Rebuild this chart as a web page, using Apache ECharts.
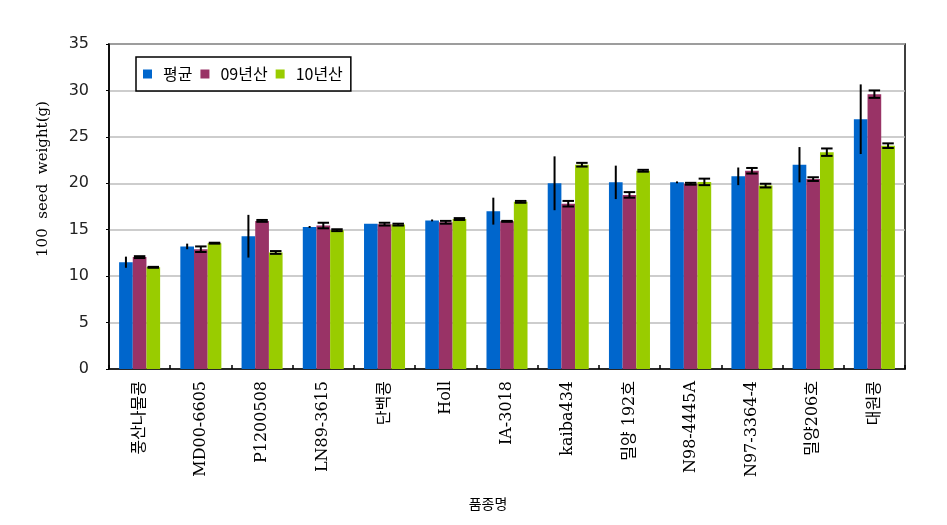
<!DOCTYPE html>
<html><head><meta charset="utf-8">
<script src="https://cdn.jsdelivr.net/npm/echarts@6/dist/echarts.min.js"></script>
<style>html,body{margin:0;padding:0;background:#fff}#c{width:947px;height:525px}</style>
</head><body><div id="c"></div>
<script>
const categories = ['풍산나물콩','MD00-6605','P1200508','LN89-3615','단백콩','Holl','IA-3018','kaiba434','밀양 192호','N98-4445A','N97-3364-4','밀양206호','대원콩'];
const seriesNames = ['평균','09년산','10년산'];
const avgVals = [11.5, 13.2, 14.3, 15.3, 15.65, 16.0, 17.0, 20.0, 20.1, 20.1, 20.75, 22.0, 26.9];
const y09Vals = [12.05, 12.9, 15.95, 15.45, 15.6, 15.8, 15.9, 17.8, 18.75, 19.95, 21.35, 20.45, 29.6];
const y10Vals = [10.95, 13.55, 12.55, 14.95, 15.55, 16.15, 18.0, 22.0, 21.35, 20.15, 19.75, 23.35, 24.05];
const avgErr = [0.6, 0.3, 2.3, 0.1, 0.0, 0.1, 1.45, 2.9, 1.8, 0.1, 0.95, 1.9, 3.75];
const y09Err = [0.1, 0.3, 0.1, 0.3, 0.15, 0.15, 0.05, 0.3, 0.3, 0.1, 0.3, 0.2, 0.4];
const y10Err = [0.05, 0.05, 0.15, 0.1, 0.1, 0.1, 0.1, 0.2, 0.1, 0.35, 0.2, 0.4, 0.25];
const yTicks = [0,5,10,15,20,25,30,35];

const colors = ['#0066cc','#993366','#99cc00'];
const vals = [avgVals, y09Vals, y10Vals];
const errs = [avgErr, y09Err, y10Err];
const GAP = 0.33;
const fontKR = '"Noto Sans CJK KR", sans-serif';
const fontLab = '"DejaVu Serif", "Noto Sans CJK KR", serif';

function errSeries(s) {
  return {
    type: 'custom',
    name: seriesNames[s] + '_err',
    z: 10,
    data: vals[s].map((v, i) => [i, v, errs[s][i]]),
    renderItem: function (params, api) {
      const i = api.value(0), v = api.value(1), e = api.value(2);
      const band = api.size([1, 0])[0];
      const gw = band * (1 - GAP);
      const bw = gw / 3;
      const c = api.coord([i, v]);
      const x = c[0] - gw / 2 + bw * (s + 0.5);
      const yH = api.coord([i, v + e])[1];
      const yL = api.coord([i, v - e])[1];
      const st = { stroke: '#000', lineWidth: 2 };
      const ch = [{ type: 'line', shape: { x1: x, y1: yH, x2: x, y2: yL }, style: st }];
      if (s > 0) {
        const hw = bw * 0.42;
        ch.push({ type: 'line', shape: { x1: x - hw, y1: yH, x2: x + hw, y2: yH }, style: st });
        ch.push({ type: 'line', shape: { x1: x - hw, y1: yL, x2: x + hw, y2: yL }, style: st });
      }
      return { type: 'group', children: ch };
    }
  };
}

const chart = echarts.init(document.getElementById('c'), null, { renderer: 'canvas' });
chart.setOption({
  animation: false,
  grid: { left: 109, right: 42, top: 44, bottom: 156, show: true, borderColor: '#000', borderWidth: 1.5, backgroundColor: 'transparent' },
  legend: {
    data: seriesNames,
    left: 136, top: 57,
    orient: 'horizontal',
    itemWidth: 9, itemHeight: 9, itemGap: 8,
    icon: 'rect',
    borderColor: '#000', borderWidth: 1.5,
    padding: [9, 8, 9, 7],
    backgroundColor: '#fff',
    textStyle: { fontFamily: fontKR, fontSize: 16, color: '#000', padding: [0, 0, 0, 6] }
  },
  xAxis: {
    type: 'category',
    data: categories,
    axisLine: { lineStyle: { color: '#000', width: 1.5 } },
    axisTick: { show: true, inside: true, length: 4, lineStyle: { color: '#000', width: 1.5 } },
    axisLabel: { rotate: 90, interval: 0, margin: 12, fontFamily: fontLab, fontSize: 16, color: '#000' },
    name: '품종명',
    nameLocation: 'middle',
    nameGap: 128,
    nameTextStyle: { fontFamily: fontKR, fontSize: 14, color: '#000', padding: [0, 38, 0, 0] }
  },
  yAxis: {
    type: 'value',
    min: 0, max: 35, interval: 5,
    axisLine: { show: true, lineStyle: { color: '#000', width: 1.5 } },
    axisTick: { show: true, length: 3, lineStyle: { color: '#000' } },
    axisLabel: { fontFamily: '"DejaVu Sans", sans-serif', fontSize: 16, color: '#222', margin: 20,
      formatter: v => yTicks.includes(v) ? String(v) : '' },
    splitLine: { show: true, lineStyle: { color: '#bdbdbd', width: 1.5 } },
    name: '100  seed  weight(g)',
    nameLocation: 'middle',
    nameGap: 58,
    nameTextStyle: { fontFamily: '"DejaVu Serif", serif', fontSize: 15, color: '#000', padding: [0, 0, 0, 55] }
  },
  series: [0, 1, 2].map(s => ({
    type: 'bar',
    name: seriesNames[s],
    data: vals[s],
    itemStyle: { color: colors[s] },
    barGap: '0%',
    barCategoryGap: (GAP * 100) + '%'
  })).concat([0, 1, 2].map(errSeries))
});
</script></body></html>
